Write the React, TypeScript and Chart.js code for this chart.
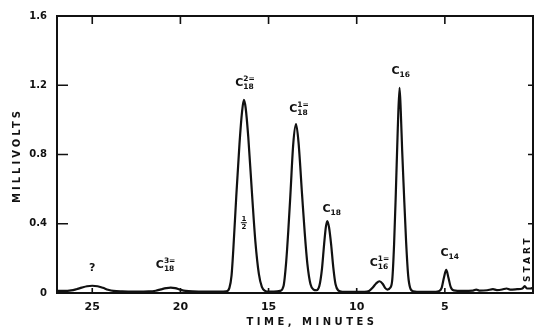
import React, { useEffect, useRef } from "react";
import { Chart, registerables } from "chart.js";

Chart.register(...registerables);

// Chromatogram trace: retention time (minutes) and signal (millivolts)
const times = [
  27.0, 26.6, 26.2, 25.9, 25.6, 25.3, 25.0, 24.7, 24.4, 24.1, 23.8, 23.3, 22.5, 21.8, 21.4, 21.1,
  20.8, 20.55, 20.3, 20.0, 19.7, 19.3, 18.5, 17.8, 17.4, 17.22, 17.1, 17.0, 16.83, 16.65, 16.5, 16.4,
  16.3, 16.15, 15.93, 15.75, 15.55, 15.38, 15.2, 15.0, 14.7, 14.35, 14.15, 14.0, 13.88, 13.76, 13.6,
  13.44, 13.3, 13.1, 12.95, 12.8, 12.62, 12.45, 12.28, 12.12, 11.97, 11.85, 11.75, 11.67, 11.57,
  11.45, 11.33, 11.2, 11.05, 10.8, 10.2, 9.6, 9.3, 9.1, 8.9, 8.71, 8.52, 8.38, 8.26, 8.1, 7.98, 7.88,
  7.78, 7.67, 7.57, 7.5, 7.42, 7.33, 7.2, 7.08, 6.97, 6.8, 6.3, 5.7, 5.35, 5.18, 5.05, 4.92, 4.8, 4.67,
  4.5, 4.0, 3.4, 3.22, 3.05, 2.6, 2.27, 2.05, 1.75, 1.5, 1.3, 0.9, 0.6, 0.47, 0.35, 0.15, 0.0,
];
const millivolts = [
  0.012, 0.012, 0.015, 0.022, 0.031, 0.039, 0.042, 0.039, 0.03, 0.019, 0.012, 0.009, 0.008, 0.009, 0.013, 0.021,
  0.028, 0.031, 0.028, 0.019, 0.012, 0.009, 0.008, 0.008, 0.01, 0.03, 0.1, 0.25, 0.56, 0.86, 1.05, 1.115,
  1.07, 0.9, 0.56, 0.3, 0.11, 0.035, 0.012, 0.008, 0.008, 0.012, 0.04, 0.18, 0.36, 0.57, 0.86,
  0.975, 0.87, 0.57, 0.35, 0.17, 0.05, 0.02, 0.016, 0.04, 0.14, 0.28, 0.38, 0.416, 0.38,
  0.28, 0.15, 0.05, 0.015, 0.007, 0.006, 0.007, 0.012, 0.03, 0.055, 0.068, 0.052, 0.028, 0.02, 0.03, 0.08, 0.28,
  0.58, 0.95, 1.185, 1.05, 0.82, 0.6, 0.3, 0.1, 0.03, 0.01, 0.006, 0.006, 0.01, 0.03, 0.09, 0.133, 0.09, 0.035,
  0.015, 0.012, 0.014, 0.02, 0.014, 0.016, 0.022, 0.017, 0.02, 0.026, 0.02, 0.022, 0.026, 0.04, 0.026, 0.026, 0.03,
];

// Axis ticks
const xTickValues = [25, 20, 15, 10, 5];
const xTopMarks = [25, 20, 15, 10, 5, 0];
const yTickValues = [0, 0.4, 0.8, 1.2, 1.6];
const yTickLabels = ["0", "0.4", "0.8", "1.2", "1.6"];
const yInnerMarks = [0.4, 0.8, 1.2];

// Peak labels (anchored in data units)
const peakBase = ["?", "C", "C", "C", "C", "C", "C", "C"];
const peakSub = ["", "18", "18", "18", "18", "16", "16", "14"];
const peakSup = ["", "3=", "2=", "1=", "", "1=", "", ""];
const peakLabelTime = [25.0, 20.84, 16.34, 13.27, 11.42, 8.71, 7.5, 4.72];
const peakLabelMv = [0.145, 0.162, 1.21, 1.06, 0.485, 0.172, 1.284, 0.231];

const halfTime = 16.4;
const halfMv = 0.406;
const startTime = 0.33;
const startMv = 0.19;

const xTitle = "TIME, MINUTES";
const yTitle = "MILLIVOLTS";

const INK = "#111";
const FONT = '"DejaVu Sans", sans-serif';

const decorPlugin = {
  id: "decor",
  afterDatasetsDraw(chart: any) {
    const { ctx, chartArea: a, scales } = chart;
    const xs = scales.x;
    const ys = scales.y;
    ctx.save();
    ctx.strokeStyle = INK;
    ctx.fillStyle = INK;
    ctx.lineWidth = 2;
    ctx.strokeRect(a.left, a.top, a.right - a.left, a.bottom - a.top);
    ctx.lineWidth = 1.6;
    ctx.beginPath();
    for (const v of yInnerMarks) {
      const y = ys.getPixelForValue(v);
      ctx.moveTo(a.left, y);
      ctx.lineTo(a.left + 11, y);
      ctx.moveTo(a.right, y);
      ctx.lineTo(a.right - 5, y);
    }
    for (const v of xTopMarks) {
      const x = xs.getPixelForValue(v);
      ctx.moveTo(x, a.top);
      ctx.lineTo(x, a.top + 8);
    }
    for (const v of xTickValues) {
      const x = xs.getPixelForValue(v);
      ctx.moveTo(x, a.bottom);
      ctx.lineTo(x, a.bottom - 5);
    }
    ctx.stroke();

    // peak labels
    ctx.textBaseline = "middle";
    ctx.textAlign = "left";
    for (let i = 0; i < peakBase.length; i++) {
      const cx = xs.getPixelForValue(peakLabelTime[i]);
      const cy = ys.getPixelForValue(peakLabelMv[i]);
      ctx.font = `bold 11px ${FONT}`;
      const wB = ctx.measureText(peakBase[i]).width;
      ctx.font = `bold 7.5px ${FONT}`;
      const wSub = peakSub[i] ? ctx.measureText(peakSub[i]).width : 0;
      const wSup = peakSup[i] ? ctx.measureText(peakSup[i]).width : 0;
      const total = wB + (wSub || wSup ? Math.max(wSub, wSup) : 0);
      const sx = cx - total / 2;
      ctx.font = `bold 11px ${FONT}`;
      ctx.fillText(peakBase[i], sx, cy);
      ctx.font = `bold 7.5px ${FONT}`;
      if (peakSub[i]) ctx.fillText(peakSub[i], sx + wB, cy + 4);
      if (peakSup[i]) ctx.fillText(peakSup[i], sx + wB, cy - 4);
    }

    // 1/2 mark
    {
      const cx = xs.getPixelForValue(halfTime);
      const cy = ys.getPixelForValue(halfMv);
      ctx.font = `bold 7px ${FONT}`;
      ctx.textAlign = "center";
      ctx.fillText("1", cx, cy - 4);
      ctx.fillText("2", cx, cy + 4.5);
      ctx.lineWidth = 1;
      ctx.beginPath();
      ctx.moveTo(cx - 3, cy);
      ctx.lineTo(cx + 3, cy);
      ctx.stroke();
    }

    // START
    {
      const cx = xs.getPixelForValue(startTime);
      const cy = ys.getPixelForValue(startMv);
      ctx.save();
      ctx.translate(cx, cy);
      ctx.rotate(-Math.PI / 2);
      ctx.font = `bold 9px ${FONT}`;
      (ctx as any).letterSpacing = "3px";
      ctx.textAlign = "center";
      ctx.fillText("START", 1.5, 0);
      ctx.restore();
    }

    // axis titles
    ctx.save();
    ctx.font = `bold 10px ${FONT}`;
    (ctx as any).letterSpacing = "3.5px";
    ctx.textAlign = "center";
    ctx.fillText(xTitle, 312, 322);
    ctx.translate(17, 157);
    ctx.rotate(-Math.PI / 2);
    (ctx as any).letterSpacing = "3px";
    ctx.fillText(yTitle, 1.5, 0);
    ctx.restore();

    ctx.restore();
  },
};

export default function App() {
  const ref = useRef<HTMLCanvasElement | null>(null);

  useEffect(() => {
    if (!ref.current) return;
    const data = times.map((t, i) => ({ x: t, y: millivolts[i] }));
    const chart = new Chart(ref.current, {
      type: "line",
      data: {
        datasets: [
          {
            data,
            borderColor: INK,
            borderWidth: 2.2,
            pointRadius: 0,
            cubicInterpolationMode: "monotone",
            fill: false,
          },
        ],
      },
      options: {
        animation: false,
        responsive: false,
        devicePixelRatio: 1,
        layout: { padding: { left: 0, right: 2, top: 16, bottom: 0 } },
        plugins: { legend: { display: false }, tooltip: { enabled: false }, title: { display: false } },
        scales: {
          x: {
            type: "linear",
            reverse: true,
            min: 0,
            max: 27,
            grid: { display: false, drawTicks: false },
            border: { display: false },
            afterBuildTicks: (s: any) => {
              s.ticks = xTickValues.map((v) => ({ value: v }));
            },
            afterFit: (s: any) => {
              s.height = 34;
            },
            ticks: {
              autoSkip: false,
              maxRotation: 0,
              padding: 8,
              color: INK,
              font: { family: FONT, weight: "bold", size: 11 },
              callback: (v: any) => String(v),
            },
          },
          y: {
            type: "linear",
            min: 0,
            max: 1.6,
            grid: { display: false, drawTicks: false },
            border: { display: false },
            afterBuildTicks: (s: any) => {
              s.ticks = yTickValues.map((v) => ({ value: v }));
            },
            afterFit: (s: any) => {
              s.width = 57;
            },
            ticks: {
              autoSkip: false,
              padding: 10,
              color: INK,
              font: { family: FONT, weight: "bold", size: 10 },
              callback: (v: any) => {
                const i = yTickValues.indexOf(Number(v));
                return i >= 0 ? yTickLabels[i] : "";
              },
            },
          },
        },
      },
      plugins: [decorPlugin],
    });
    return () => chart.destroy();
  }, []);

  return (
    <div style={{ position: "absolute", left: 0, top: 0, width: 535, height: 327, background: "#fff" }}>
      <canvas ref={ref} width={535} height={327} style={{ display: "block", width: 535, height: 327 }} />
    </div>
  );
}
